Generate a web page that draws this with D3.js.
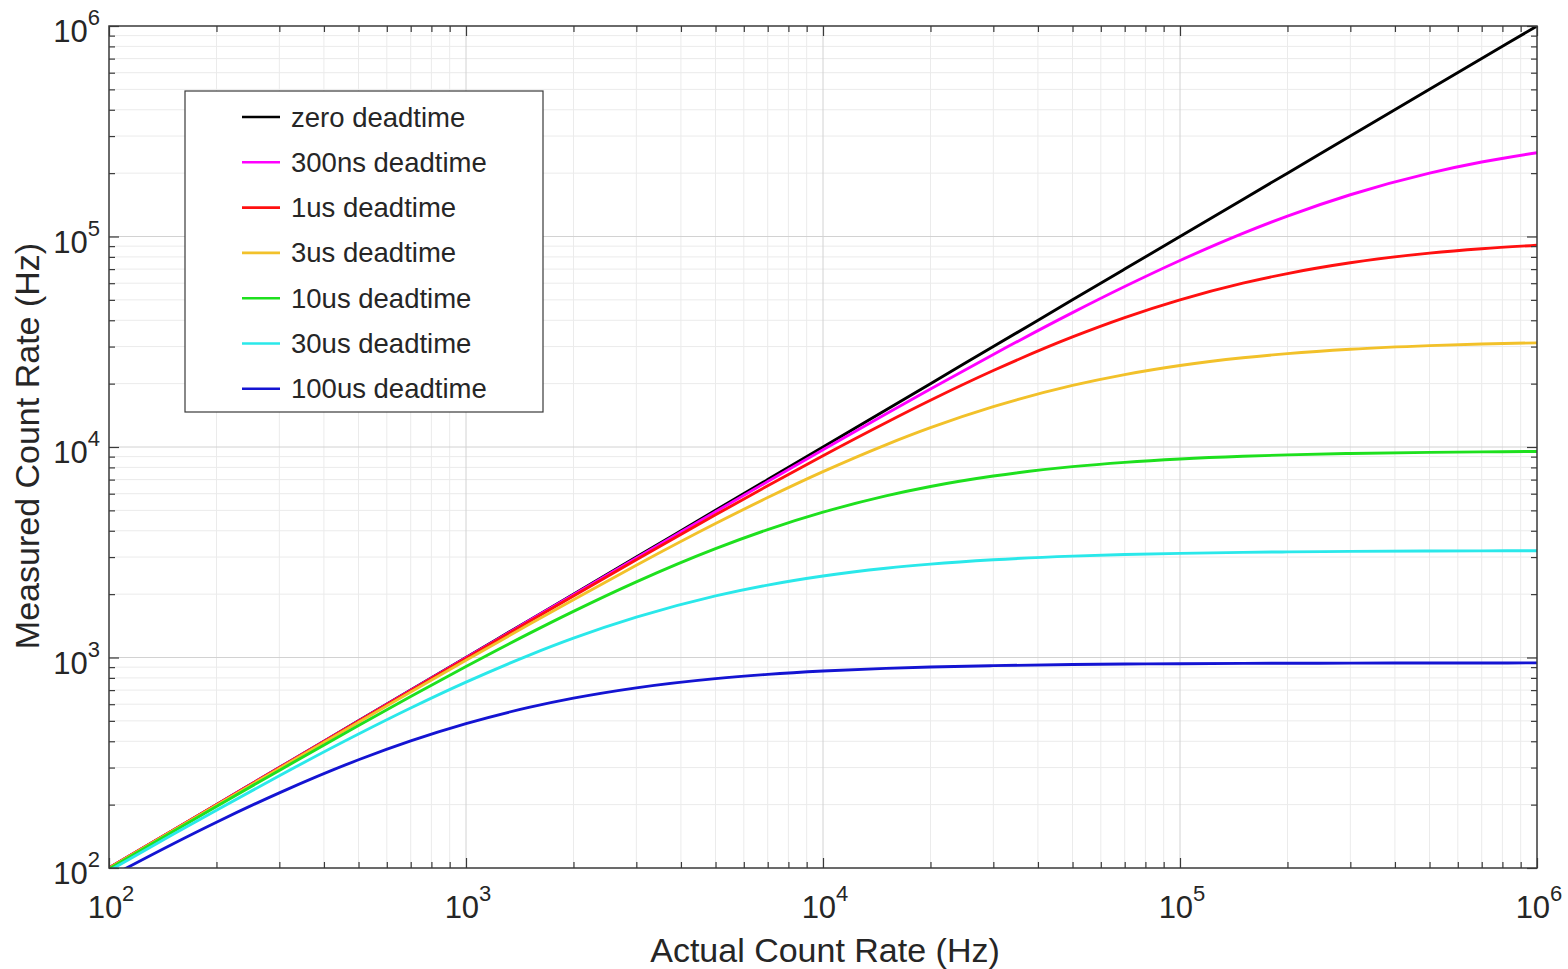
<!DOCTYPE html>
<html>
<head>
<meta charset="utf-8">
<script src="https://cdn.jsdelivr.net/npm/d3@7"></script>
<style>
  body { margin: 0; background: #fff; }
  svg { font-family: "Liberation Sans", Arial, Helvetica, sans-serif; }
  text { fill: #262626; }
</style>
</head>
<body>
<svg id="chart" width="1568" height="969"></svg>
<script>
// actual count rate (Hz), shared by every series
const actual = [100, 150, 200, 300, 500, 700, 1e3, 1.5e3, 2e3, 3e3, 5e3, 7e3, 1e4, 1.5e4, 2e4, 3e4, 5e4, 7e4, 1e5, 1.5e5, 2e5, 3e5, 5e5, 7e5, 1e6]

// measured count rate (Hz)
const zeroDead = [100, 150, 200, 300, 500, 700, 1e3, 1.5e3, 2e3, 3e3, 5e3, 7e3, 1e4, 1.5e4, 2e4, 3e4, 5e4, 7e4, 1e5, 1.5e5, 2e5, 3e5, 5e5, 7e5, 1e6]
const dead300ns = [100, 150, 200, 300, 499, 699, 997, 1493, 1988, 2973, 4926, 6855, 9709, 14350, 18870, 27520, 43480, 57850, 76920, 103450, 125000, 157900, 200000, 225800, 250000]
const dead1us = [100, 150, 200, 299, 498, 695, 990, 1478, 1961, 2913, 4762, 6542, 9091, 13040, 16670, 23080, 33330, 41180, 50000, 60000, 66670, 75000, 83330, 87500, 90910]
const dead3us = [99.7, 149.3, 198.8, 297.2, 492.4, 685.1, 969.9, 1433, 1883, 2745, 4329, 5752, 7634, 10240, 12350, 15540, 19610, 22080, 24390, 26550, 27780, 29130, 30300, 30840, 31250]
const dead10us = [99, 147.7, 195.9, 290.9, 475.3, 652.5, 905.8, 1298, 1656, 2287, 3289, 4051, 4902, 5859, 6494, 7282, 8065, 8454, 8772, 9036, 9174, 9317, 9434, 9485, 9524]
const dead30us = [97, 143.3, 188.3, 274.5, 432.9, 575.2, 763.4, 1024, 1235, 1554, 1961, 2208, 2439, 2655, 2778, 2913, 3030, 3084, 3125, 3158, 3175, 3191, 3205, 3211, 3215]
const dead100us = [90.4, 129.4, 165, 227.6, 326.8, 401.8, 485.4, 579.2, 641, 717.7, 793.7, 831.4, 862.1, 887.6, 900.9, 914.6, 925.9, 930.9, 934.6, 937.5, 939, 940.4, 941.6, 942.1, 942.5]

const seriesNames = ["zero deadtime", "300ns deadtime", "1us deadtime", "3us deadtime", "10us deadtime", "30us deadtime", "100us deadtime"]
const seriesValues = [zeroDead, dead300ns, dead1us, dead3us, dead10us, dead30us, dead100us]
const seriesColors = ["#000000", "#ff00ff", "#ff1010", "#f2c12a", "#1ee01e", "#2ae8ea", "#1414d2"]

const decades = [2, 3, 4, 5, 6]

/**
 * Margins of the plot box
 */
const margin = { top: 26, bottom: 101, left: 109, right: 31 }

let svg = d3.select("#chart")
let width = +svg.attr("width")
let height = +svg.attr("height")
const innerW = width - margin.left - margin.right
const innerH = height - margin.top - margin.bottom

const xScale = d3.scaleLog().domain([1e2, 1e6]).range([0, innerW])
const yScale = d3.scaleLog().domain([1e2, 1e6]).range([innerH, 0])

let g = svg.append("g").attr("transform", "translate(" + margin.left + "," + margin.top + ")")

// major and minor tick values
const majors = decades.map(d => Math.pow(10, d))
let minors = []
decades.slice(0, -1).forEach(d => {
    for (let k = 2; k <= 9; k++) minors.push(k * Math.pow(10, d))
})

/**
 * Grid lines
 */
g.append("g").selectAll("line").data(minors).join("line")
    .attr("x1", d => xScale(d)).attr("x2", d => xScale(d))
    .attr("y1", 0).attr("y2", innerH)
    .attr("stroke", "#ebebeb").attr("stroke-width", 1)
g.append("g").selectAll("line").data(minors).join("line")
    .attr("y1", d => yScale(d)).attr("y2", d => yScale(d))
    .attr("x1", 0).attr("x2", innerW)
    .attr("stroke", "#ebebeb").attr("stroke-width", 1)
g.append("g").selectAll("line").data(majors.slice(1, -1)).join("line")
    .attr("x1", d => xScale(d)).attr("x2", d => xScale(d))
    .attr("y1", 0).attr("y2", innerH)
    .attr("stroke", "#d2d2d2").attr("stroke-width", 1)
g.append("g").selectAll("line").data(majors.slice(1, -1)).join("line")
    .attr("y1", d => yScale(d)).attr("y2", d => yScale(d))
    .attr("x1", 0).attr("x2", innerW)
    .attr("stroke", "#d2d2d2").attr("stroke-width", 1)

/**
 * Curves
 */
svg.append("defs").append("clipPath").attr("id", "clip")
    .append("rect").attr("width", innerW).attr("height", innerH)

const line = d3.line()
    .x(d => xScale(d[0]))
    .y(d => yScale(d[1]))
    .curve(d3.curveMonotoneX)

let g_lines = g.append("g").attr("clip-path", "url(#clip)")
seriesValues.forEach((vals, i) => {
    g_lines.append("path")
        .datum(actual.map((a, j) => [a, vals[j]]))
        .attr("fill", "none")
        .attr("stroke", seriesColors[i])
        .attr("stroke-width", 2.9)
        .attr("stroke-linejoin", "round")
        .attr("d", line)
})

/**
 * Axes on all four sides, ticks pointing inward
 */
const axisColor = "#3a3a3a"
function styleAxis(sel) {
    sel.select(".domain").remove()
    sel.selectAll(".tick line").attr("stroke", axisColor).attr("stroke-width", 1.2)
    sel.selectAll(".tick text").remove()
}
const sides = [
    [d3.axisBottom, xScale, "translate(0," + innerH + ")"],
    [d3.axisTop, xScale, "translate(0,0)"],
    [d3.axisLeft, yScale, "translate(0,0)"],
    [d3.axisRight, yScale, "translate(" + innerW + ",0)"],
]
sides.forEach(([axisFn, sc, tr]) => {
    g.append("g").attr("transform", tr)
        .call(axisFn(sc).tickValues(minors).tickSize(-6).tickFormat(""))
        .call(styleAxis)
    g.append("g").attr("transform", tr)
        .call(axisFn(sc).tickValues(majors).tickSize(-10).tickFormat(""))
        .call(styleAxis)
})

g.append("rect")
    .attr("width", innerW).attr("height", innerH)
    .attr("fill", "none").attr("stroke", axisColor).attr("stroke-width", 1.5)

/**
 * Tick labels as 10 with superscript exponent
 */
function powLabel(sel) {
    sel.append("tspan").attr("font-size", 31).text("10")
    sel.append("tspan").attr("font-size", 22).attr("dy", -17).text(d => Math.log10(d))
}
g.append("g").selectAll("text").data(majors).join("text")
    .attr("x", d => xScale(d) + 2)
    .attr("y", innerH + 50)
    .attr("text-anchor", "middle")
    .call(powLabel)
g.append("g").selectAll("text").data(majors).join("text")
    .attr("x", -9)
    .attr("y", d => yScale(d) + 16)
    .attr("text-anchor", "end")
    .call(powLabel)

/**
 * Axis titles
 */
g.append("text")
    .attr("x", innerW / 2 + 2)
    .attr("y", innerH + 94)
    .attr("text-anchor", "middle")
    .attr("font-size", 34)
    .text("Actual Count Rate (Hz)")

g.append("text")
    .attr("transform", "rotate(-90)")
    .attr("x", -innerH / 2 + 1)
    .attr("y", -70)
    .attr("text-anchor", "middle")
    .attr("font-size", 34)
    .text("Measured Count Rate (Hz)")

/**
 * Legend
 */
let legend = svg.append("g").attr("transform", "translate(185,91)")
legend.append("rect")
    .attr("width", 358).attr("height", 321)
    .attr("fill", "#fff").attr("stroke", axisColor).attr("stroke-width", 1.2)

let entries = legend.selectAll(".entry").data(seriesNames).join("g")
    .attr("class", "entry")
    .attr("transform", (d, i) => "translate(0," + (26 + i * 45.3) + ")")
entries.append("line")
    .attr("x1", 57).attr("x2", 95)
    .attr("stroke", (d, i) => seriesColors[i])
    .attr("stroke-width", 2.6)
entries.append("text")
    .attr("x", 106).attr("y", 9.5)
    .attr("font-size", 27.5)
    .text(d => d)
</script>
</body>
</html>
